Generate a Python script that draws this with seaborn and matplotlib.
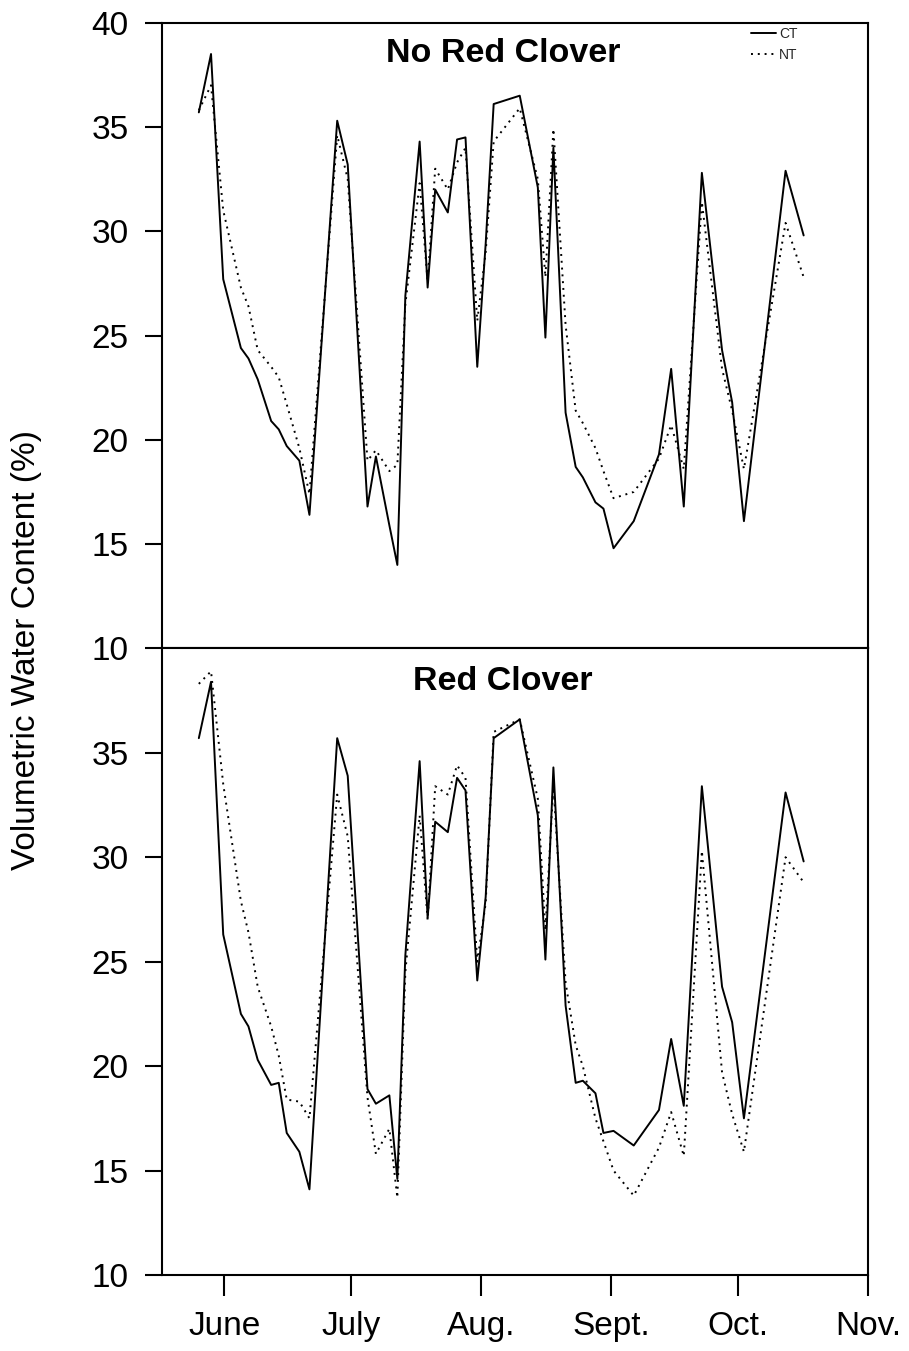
import matplotlib
matplotlib.use("Agg")
import matplotlib.pyplot as plt
import numpy as np
import pandas as pd
import seaborn as sns

# ---- data (day of year) ----
days = [145.9, 148.8, 151.7, 155.9, 157.7, 159.9, 163.1, 164.9, 166.8, 169.8,
        172.2, 178.8, 181.3, 186.0, 188.0, 191.2, 193.1, 195.0, 198.4, 200.3,
        202.1, 205.1, 207.3, 209.3, 212.1, 214.1, 216.0, 222.2, 226.5, 228.3,
        230.2, 233.1, 235.5, 237.2, 240.2, 242.1, 244.5, 249.3, 255.3, 258.2,
        261.2, 265.5, 270.3, 272.7, 275.5, 285.4, 289.7]

norc_ct = [35.7, 38.5, 27.7, 24.4, 23.9, 22.9, 20.9, 20.5, 19.7, 19.0,
           16.4, 35.3, 33.2, 16.8, 19.2, 15.9, 14.0, 26.9, 34.3, 27.3,
           32.0, 30.9, 34.4, 34.5, 23.5, 29.4, 36.1, 36.5, 32.1, 24.9,
           34.0, 21.3, 18.7, 18.2, 17.0, 16.7, 14.8, 16.1, 19.3, 23.4,
           16.8, 32.8, 24.3, 21.8, 16.1, 32.9, 29.8]
norc_nt = [35.8, 37.0, 31.0, 27.3, 26.4, 24.3, 23.5, 23.0, 21.7, 19.6,
           17.4, 34.6, 32.5, 19.0, 19.5, 18.5, 18.8, 26.5, 32.3, 27.6,
           33.0, 32.0, 33.3, 34.0, 25.7, 29.0, 34.3, 35.9, 32.5, 27.8,
           34.9, 25.5, 21.4, 20.8, 19.6, 18.5, 17.2, 17.5, 19.1, 20.7,
           18.6, 31.4, 23.4, 21.4, 18.6, 30.4, 27.8]
rc_ct = [35.7, 38.4, 26.3, 22.5, 21.9, 20.3, 19.1, 19.2, 16.8, 15.9,
         14.1, 35.7, 33.9, 18.9, 18.2, 18.6, 14.6, 25.3, 34.6, 27.1,
         31.7, 31.2, 33.8, 33.2, 24.1, 28.1, 35.7, 36.6, 32.0, 25.1,
         34.3, 22.9, 19.2, 19.3, 18.7, 16.8, 16.9, 16.2, 17.9, 21.3,
         18.1, 33.4, 23.8, 22.1, 17.5, 33.1, 29.8]
rc_nt = [38.3, 38.9, 33.5, 27.9, 26.4, 23.8, 21.9, 20.5, 18.4, 18.3,
         17.5, 33.0, 31.0, 18.5, 15.8, 17.0, 13.7, 24.5, 32.0, 27.0,
         33.4, 33.0, 34.4, 33.8, 25.0, 27.8, 36.0, 36.6, 32.8, 26.5,
         33.5, 24.0, 21.0, 20.0, 17.5, 16.4, 15.0, 13.8, 16.1, 17.8,
         15.7, 30.3, 19.7, 17.7, 15.9, 30.0, 28.8]

month_days = [152, 182, 213, 244, 274, 305]
month_labels = ["June", "July", "Aug.", "Sept.", "Oct.", "Nov."]
panel_titles = ["No Red Clover", "Red Clover"]
series_names = ["CT", "NT"]

sns.set_theme(style="white")
plt.rcParams['font.family'] = ['Liberation Sans', 'DejaVu Sans']

fig = plt.figure(figsize=(9.09, 13.51), dpi=100)
ax1 = fig.add_axes([0.1782, 0.5201, 0.7767, 0.4631])
ax2 = fig.add_axes([0.1782, 0.05625, 0.7767, 0.46385])

def make_df(ct, nt):
    return pd.DataFrame({
        "Day": days + days,
        "VWC": ct + nt,
        "Tillage": [series_names[0]] * len(days) + [series_names[1]] * len(days),
    })

dash_map = {"CT": "", "NT": (1, 2.5)}

for ax, (ct, nt), title, tb in zip(
        [ax1, ax2], [(norc_ct, norc_nt), (rc_ct, rc_nt)], panel_titles,
        [0.9372, 0.9335]):
    df = make_df(ct, nt)
    sns.lineplot(data=df, x="Day", y="VWC", style="Tillage", dashes=dash_map,
                 color="black", linewidth=1.4, estimator=None, legend=False,
                 ax=ax)
    ax.set_xlim(137.14, 305)
    ax.set_ylim(10, 40)
    ax.set_xlabel("")
    ax.set_ylabel("")
    for s in ax.spines.values():
        s.set_color("black")
        s.set_linewidth(1.5)
        s.set_visible(True)
    ax.tick_params(axis="y", which="both", left=True, right=False,
                   direction="out", length=12, width=1.5, pad=12,
                   labelsize=24, colors="black")
    ax.text(0.483, tb, title, transform=ax.transAxes, ha="center",
            va="baseline", fontsize=24.5, fontweight="bold", color="black")

ax1.set_yticks([10, 15, 20, 25, 30, 35, 40])
ax1.tick_params(axis="x", bottom=False, labelbottom=False)
ax2.set_yticks([10, 15, 20, 25, 30, 35])
ax2.set_xticks(month_days)
ax2.set_xticklabels(month_labels)
ax2.tick_params(axis="x", bottom=True, top=False, direction="out", length=15,
                width=1.5, pad=11, labelsize=24, colors="black")

handles = ax1.get_lines()[:2]
ax1.legend(handles, series_names, loc="upper left",
           bbox_to_anchor=(0.834, 0.993), frameon=False, fontsize=10,
           handlelength=1.8, handletextpad=0.25, labelspacing=0.5,
           borderpad=0, borderaxespad=0)

fig.text(26.5 / 909, 1 - 650 / 1351, "Volumetric Water Content (%)",
         rotation=90, va="center", ha="center", fontsize=24, color="black")

fig.savefig("out.png", dpi=100)
